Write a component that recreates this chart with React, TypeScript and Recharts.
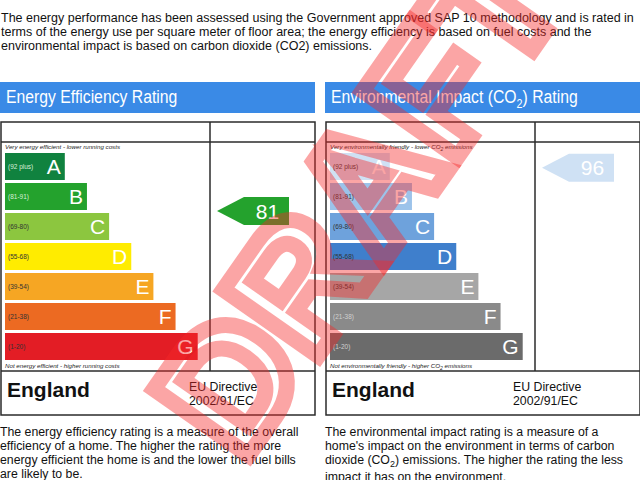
import { ComposedChart, Bar, Scatter, XAxis, YAxis, Cell, LabelList } from "recharts";

// rating bands, top (best) to bottom
const bands = ["A", "B", "C", "D", "E", "F", "G"];
const bandRanges = ["(92 plus)", "(81-91)", "(69-80)", "(55-68)", "(39-54)", "(21-38)", "(1-20)"];
const bandLow = [92, 81, 69, 55, 39, 21, 1];
const bandHigh = [100, 91, 80, 68, 54, 38, 20];
// bar length grows one step per band
const bandSteps = [3, 4, 5, 6, 7, 8, 9];

const energyColours = ["#10823f", "#24a22d", "#8cc63f", "#ffec00", "#f6a623", "#ec6a22", "#e31d25"];
const energyRangeInk = ["#d8efd8", "#d8efd8", "#333", "#333", "#333", "#333", "#333"];
const co2Colours = ["#cfe1f4", "#9cc3ea", "#6ea2dc", "#3f7fcc", "#a6a6a6", "#8a8a8a", "#6b6b6b"];
const co2RangeInk = ["#333", "#333", "#333", "#333", "#333", "#d0d0d0", "#d0d0d0"];

const currentEnergy = 81;
const currentCo2 = 96;

const FONT = "'Liberation Sans', Arial, sans-serif";
const BLUE = "#3a8ae6";
const LINE = "#2b2b2b";

const bandData = bands.map((band, i) => ({ band, range: bandRanges[i], step: bandSteps[i] }));

// position of a rating within the band column (0 = top of A, 7 = bottom of G)
function ratingPos(v: number) {
  const i = bandLow.findIndex((lo) => v >= lo);
  return i + (bandHigh[i] + 1 - v) / (bandHigh[i] + 1 - bandLow[i]);
}

function Arrow(props: any) {
  const { cx, cy, payload, fill } = props;
  const tip = cx + 6;
  const body = cx + 33;
  const end = cx + 78;
  const h = 14;
  return (
    <g>
      <polygon
        points={`${tip},${cy} ${body},${cy - h} ${end},${cy - h} ${end},${cy + h} ${body},${cy + h}`}
        fill={fill}
      />
      <text
        x={(body + end) / 2 + 1}
        y={cy}
        dy="0.36em"
        textAnchor="middle"
        fill="#fff"
        fontSize={21}
        fontFamily={FONT}
      >
        {payload.rating}
      </text>
    </g>
  );
}

function RatingBars({
  colours,
  rangeInk,
  rating,
}: {
  colours: string[];
  rangeInk: string[];
  rating: number;
}) {
  const arrowData = [{ col: 1, pos: ratingPos(rating), rating }];
  const band = bandLow.findIndex((lo) => rating >= lo);
  return (
    <ComposedChart
      width={315}
      height={210}
      data={bandData}
      layout="vertical"
      margin={{ top: 0, right: 104, bottom: 0, left: 5 }}
    >
      <XAxis xAxisId="len" type="number" domain={[0.3, 9.6]} hide />
      <XAxis xAxisId="col" type="number" dataKey="col" domain={[0, 1]} hide />
      <YAxis yAxisId="band" type="category" dataKey="band" hide />
      <YAxis yAxisId="pos" type="number" dataKey="pos" domain={[0, 7]} hide />
      <Bar xAxisId="len" yAxisId="band" dataKey="step" barSize={27} isAnimationActive={false}>
        {bandData.map((d, i) => (
          <Cell key={d.band} fill={colours[i]} />
        ))}
        <LabelList
          dataKey="range"
          content={(p: any) => (
            <text
              x={p.x + 3}
              y={p.y + p.height / 2}
              dy="0.35em"
              fontSize={6.5}
              fontFamily={FONT}
              fill={rangeInk[p.index]}
            >
              {p.value}
            </text>
          )}
        />
        <LabelList
          dataKey="band"
          content={(p: any) => (
            <text
              x={p.x + p.width - 4}
              y={p.y + p.height / 2}
              dy="0.36em"
              textAnchor="end"
              fontSize={21}
              fontFamily={FONT}
              fill="#fff"
            >
              {p.value}
            </text>
          )}
        />
      </Bar>
      <Scatter
        xAxisId="col"
        yAxisId="pos"
        data={arrowData}
        fill={colours[band]}
        shape={<Arrow />}
        isAnimationActive={false}
      />
    </ComposedChart>
  );
}

function Frame({ left, title, children }: { left: number; title: React.ReactNode; children?: React.ReactNode }) {
  return (
    <>
      <div
        style={{
          position: "absolute",
          left,
          top: 82,
          width: 315,
          height: 31,
          background: BLUE,
        }}
      >
        <div
          style={{
            position: "absolute",
            left: 6,
            top: 0,
            color: "#fff",
            fontSize: 17.5,
            lineHeight: "31px",
            whiteSpace: "nowrap",
            transform: "scaleX(0.9)",
            transformOrigin: "left center",
          }}
        >
          {title}
        </div>
      </div>
      <svg style={{ position: "absolute", left, top: 121 }} width={316} height={296}>
        <rect x={1} y={1} width={314} height={293} fill="#fff" stroke={LINE} strokeWidth={1.5} />
        <line x1={1} x2={315} y1={21} y2={21} stroke={LINE} strokeWidth={1.5} />
        <line x1={210} x2={210} y1={1} y2={250} stroke={LINE} strokeWidth={1.5} />
        <line x1={1} x2={315} y1={250} y2={250} stroke={LINE} strokeWidth={1.5} />
      </svg>
      {children}
    </>
  );
}

const note: React.CSSProperties = {
  position: "absolute",
  fontSize: 6.2,
  fontStyle: "italic",
  color: "#222",
  whiteSpace: "nowrap",
  lineHeight: "8px",
};

const para: React.CSSProperties = {
  position: "absolute",
  fontSize: 12.3,
  lineHeight: "14px",
  color: "#111",
  whiteSpace: "pre",
};

export default function App() {
  return (
    <div
      style={{
        position: "absolute",
        left: 0,
        top: 0,
        width: 640,
        height: 480,
        overflow: "hidden",
        background: "#fff",
        fontFamily: FONT,
      }}
    >
      <div style={{ position: "absolute", left: 1, top: 11, fontSize: 12.5, lineHeight: "14px", color: "#111", whiteSpace: "pre" }}>
        {"The energy performance has been assessed using the Government approved SAP 10 methodology and is rated in\n" +
          "terms of the energy use per square meter of floor area; the energy efficiency is based on fuel costs and the\n" +
          "environmental impact is based on carbon dioxide (CO2) emissions."}
      </div>

      <Frame left={0} title="Energy Efficiency Rating">
        <div style={{ ...note, left: 5, top: 143 }}>Very energy efficient - lower running costs</div>
        <div style={{ position: "absolute", left: 0, top: 151 }}>
          <RatingBars colours={energyColours} rangeInk={energyRangeInk} rating={currentEnergy} />
        </div>
        <div style={{ ...note, left: 5, top: 362 }}>Not energy efficient - higher running costs</div>
        <div style={{ position: "absolute", left: 7, top: 378, fontSize: 21, fontWeight: "bold", color: "#111" }}>England</div>
        <div style={{ position: "absolute", left: 189, top: 380, fontSize: 12.3, lineHeight: "14px", color: "#111" }}>
          EU Directive
          <br />
          2002/91/EC
        </div>
      </Frame>

      <Frame
        left={325}
        title={
          <>
            Environmental Impact (CO<sub style={{ fontSize: 12 }}>2</sub>) Rating
          </>
        }
      >
        <div style={{ ...note, left: 330, top: 143 }}>
          Very environmentally friendly - lower CO<sub style={{ fontSize: 5 }}>2</sub> emissions
        </div>
        <div style={{ position: "absolute", left: 325, top: 151 }}>
          <RatingBars colours={co2Colours} rangeInk={co2RangeInk} rating={currentCo2} />
        </div>
        <div style={{ ...note, left: 330, top: 362 }}>
          Not environmentally friendly - higher CO<sub style={{ fontSize: 5 }}>2</sub> emissions
        </div>
        <div style={{ position: "absolute", left: 332, top: 378, fontSize: 21, fontWeight: "bold", color: "#111" }}>England</div>
        <div style={{ position: "absolute", left: 513, top: 380, fontSize: 12.3, lineHeight: "14px", color: "#111" }}>
          EU Directive
          <br />
          2002/91/EC
        </div>
      </Frame>

      <div style={{ ...para, left: 0, top: 425 }}>
        {"The energy efficiency rating is a measure of the overall\n" +
          "efficiency of a home. The higher the rating the more\n" +
          "energy efficient the home is and the lower the fuel bills\n" +
          "are likely to be."}
      </div>
      <div style={{ ...para, left: 325, top: 425 }}>
        {"The environmental impact rating is a measure of a\nhome's impact on the environment in terms of carbon\ndioxide (CO"}
        <sub style={{ fontSize: 9, lineHeight: 0 }}>2</sub>
        {") emissions. The higher the rating the less"}
        <div style={{ marginTop: 3 }}>impact it has on the environment.</div>
      </div>

      <svg style={{ position: "absolute", left: 0, top: 0, pointerEvents: "none" }} width={640} height={480}>
        <text
          x={358}
          y={198}
          textAnchor="middle"
          dominantBaseline="central"
          transform="rotate(-55 358 198)"
          fontSize={168}
          fontWeight="bold"
          fontFamily={FONT}
          fill="none"
          stroke="rgba(245,40,40,0.42)"
          strokeWidth={16}
        >
          DRAFT
        </text>
      </svg>
    </div>
  );
}
